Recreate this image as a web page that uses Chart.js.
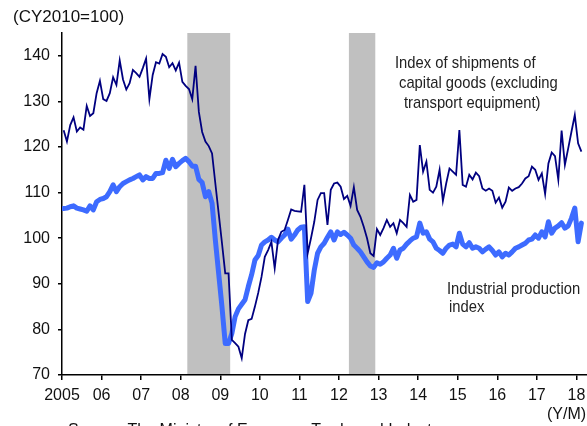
<!DOCTYPE html>
<html>
<head>
<meta charset="utf-8">
<script src="https://cdn.jsdelivr.net/npm/chart.js@4.4.1/dist/chart.umd.min.js"></script>
<style>
  html, body { margin: 0; padding: 0; background: #fff; }
  canvas { display: block; }
</style>
</head>
<body>
<canvas id="chart" width="587" height="426"></canvas>
<script>
// monthly data, Jan 2005 .. Feb 2018 (CY2010=100)
const yearLabels = ['2005', '06', '07', '08', '09', '10', '11', '12', '13', '14', '15', '16', '17', '18'];
const yTicks = [70, 80, 90, 100, 110, 120, 130, 140];

const shipments = [
  123.7, 121.2, 124.8, 126.5, 123.4, 124.3, 123.8, 129.0, 126.8, 127.4, 131.8, 134.5,
  130.5, 130.1, 131.8, 135.3, 133.6, 139.0, 134.8, 132.6, 134.0, 136.9, 136.2, 135.4,
  137.3, 139.4, 130.5, 135.8, 138.6, 138.3, 140.4, 139.8, 137.5, 138.4, 136.8, 138.5,
  134.3, 133.4, 132.7, 130.5, 137.8, 127.7, 123.3, 121.2, 120.2, 118.6, 112.0, 105.5,
  99.0, 92.3, 92.3, 77.7, 77.0, 76.2, 73.7, 79.0, 82.0, 82.3, 85.0, 88.0, 91.5, 95.9,
  97.4, 99.2, 93.4, 99.6, 101.4, 101.8, 104.0, 106.3, 106.0, 105.9, 105.8, 111.7,
  96.7, 100.0, 103.6, 108.4, 109.9, 109.9, 102.9, 110.6, 112.0, 112.2, 111.3, 108.6,
  109.3, 107.1, 111.2, 106.2, 104.7, 102.5, 100.0, 96.7, 96.1, 102.0, 100.7, 102.2,
  104.0, 102.5, 103.3, 101.1, 104.0, 103.3, 102.5, 109.5, 108.0, 108.4, 120.4, 114.6,
  116.8, 110.6, 110.0, 111.3, 115.0, 108.2, 112.0, 115.3, 114.6, 113.9, 123.7, 111.7,
  111.3, 113.9, 112.9, 114.4, 113.6, 110.9, 110.4, 110.9, 110.4, 107.8, 108.9, 106.7,
  108.0, 111.1, 110.4, 110.9, 111.2, 112.0, 113.1, 113.6, 115.7, 115.0, 112.8, 114.2,
  109.7, 116.4, 118.8, 118.0, 112.8, 123.6, 116.1, 119.7, 123.4, 127.0, 120.8, 119.0
];

const production = [
  106.5, 106.6, 106.9, 107.1, 106.6, 106.4, 106.2, 105.9, 107.1, 106.2, 108.0, 108.5,
  108.7, 109.1, 110.2, 111.7, 110.2, 111.3, 112.0, 112.4, 112.8, 113.1, 113.5, 113.9,
  112.8, 113.5, 113.1, 113.1, 114.2, 114.2, 114.4, 117.1, 115.3, 117.3, 115.7, 116.4,
  117.0, 117.5, 116.8, 115.8, 115.8, 112.9, 112.2, 109.1, 110.2, 107.7, 99.6, 92.3,
  85.0, 76.9, 76.9, 79.1, 82.8, 84.5, 85.5, 86.5, 89.4, 92.0, 95.2, 96.2, 98.5, 99.2,
  99.6, 100.2, 99.6, 99.2, 100.0, 100.7, 102.0, 99.8, 100.7, 101.8, 102.4, 102.5,
  86.1, 87.9, 93.0, 96.7, 98.1, 98.9, 100.2, 101.4, 99.6, 101.4, 100.8, 101.3,
  100.7, 100.0, 98.5, 97.8, 97.0, 95.9, 94.8, 93.9, 93.6, 94.6, 94.3, 94.8,
  95.6, 96.3, 97.8, 95.6, 97.4, 97.8, 98.7, 99.4, 100.0, 100.3, 103.3, 101.1,
  101.4, 99.8, 99.2, 97.8, 97.3, 96.7, 97.8, 98.5, 98.7, 98.1, 101.1, 98.7,
  98.1, 99.0, 97.8, 98.1, 97.8, 97.0, 97.6, 98.1, 97.3, 96.3, 97.0, 95.9,
  96.7, 96.3, 97.0, 97.8, 98.1, 98.5, 98.9, 99.6, 99.8, 100.7, 100.0, 101.4,
  100.3, 103.6, 101.1, 102.2, 102.7, 103.4, 102.2, 102.7, 104.4, 106.6, 99.2, 103.3
];

// recession periods in months since Jan 2005 (after peak month .. end of trough month)
const recessions = [[38, 51], [87, 95]];

const FONT = "'Liberation Sans', Arial, sans-serif";
const toPoints = arr => arr.map((v, i) => ({ x: i + 0.5, y: v }));
const yearTicks = yearLabels.map((_, i) => i * 12);

const decor = {
  id: 'decor',
  beforeDraw(chart) {
    const { ctx, chartArea, scales: { x } } = chart;
    ctx.save();
    ctx.fillStyle = '#c0c0c0';
    recessions.forEach(([a, b]) => {
      const x0 = x.getPixelForValue(a);
      const x1 = x.getPixelForValue(b);
      ctx.fillRect(x0, chartArea.top, x1 - x0, chartArea.bottom - chartArea.top);
    });
    ctx.restore();
  },
  afterDraw(chart) {
    const ctx = chart.ctx;
    ctx.save();
    ctx.fillStyle = '#111';
    ctx.textBaseline = 'alphabetic';
    ctx.font = '17px ' + FONT;
    ctx.fillText('(CY2010=100)', 13, 22);

    ctx.font = '16px ' + FONT;
    ctx.textBaseline = 'middle';
    ctx.fillText('(Y/M)', 547, 415);
    ctx.textBaseline = 'top';
    ctx.fillText('Source: The Ministry of Economy, Trade and Industry', 68, 423);

    // series notes, slightly narrow like the original
    ctx.fillStyle = '#222';
    ctx.font = '17px ' + FONT;
    ctx.textBaseline = 'middle';
    const notes = [
      ['Index of shipments of', 395, 63],
      ['capital goods (excluding', 399, 83],
      ['transport equipment)', 404, 103],
      ['Industrial production', 447, 289],
      ['index', 449, 307]
    ];
    notes.forEach(([t, px, py]) => {
      ctx.save();
      ctx.translate(px, py);
      ctx.scale(0.87, 1);
      ctx.fillText(t, 0, 0);
      ctx.restore();
    });
    ctx.restore();
  }
};

new Chart(document.getElementById('chart'), {
  type: 'line',
  data: {
    datasets: [
      {
        label: 'Index of shipments of capital goods (excluding transport equipment)',
        data: toPoints(shipments),
        borderColor: '#000080',
        borderWidth: 1.8,
        pointRadius: 0,
        tension: 0
      },
      {
        label: 'Industrial production index',
        data: toPoints(production),
        borderColor: '#3d6bff',
        borderWidth: 5,
        borderJoinStyle: 'round',
        borderCapStyle: 'round',
        pointRadius: 0,
        tension: 0
      }
    ]
  },
  options: {
    responsive: false,
    animation: false,
    layout: { padding: { top: 33, left: 0, right: 0, bottom: 0 } },
    plugins: { legend: { display: false }, tooltip: { enabled: false } },
    scales: {
      x: {
        type: 'linear',
        min: 0,
        max: 159.2,
        afterBuildTicks: s => { s.ticks = yearTicks.map(v => ({ value: v })); },
        afterFit: s => { s.height = 51; s.paddingLeft = 0; s.paddingRight = 0; },
        ticks: {
          autoSkip: false,
          maxRotation: 0,
          padding: 6,
          color: '#111',
          font: { family: FONT, size: 16 },
          callback: v => yearLabels[yearTicks.indexOf(v)]
        },
        grid: { drawOnChartArea: false, drawTicks: true, tickLength: 5, color: '#000', lineWidth: 1.5 },
        border: { color: '#000', width: 1.5 }
      },
      y: {
        min: 70,
        max: 145,
        afterBuildTicks: s => { s.ticks = yTicks.map(v => ({ value: v })); },
        afterFit: s => { s.width = 62; s.paddingTop = 0; s.paddingBottom = 0; },
        ticks: {
          padding: 8,
          color: '#111',
          font: { family: FONT, size: 16 }
        },
        grid: { drawOnChartArea: false, drawTicks: true, tickLength: 4, color: '#000', lineWidth: 1.5 },
        border: { color: '#000', width: 1.5 }
      }
    }
  },
  plugins: [decor]
});
</script>
</body>
</html>
